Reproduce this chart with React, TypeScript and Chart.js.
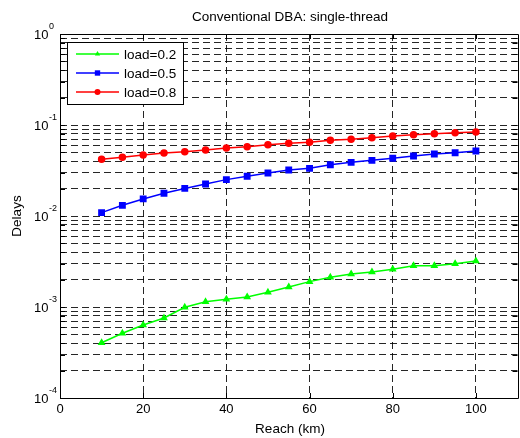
import React, { useEffect, useRef } from 'react';
import { Chart, registerables } from 'chart.js';

Chart.register(...registerables);

// ---- data ----
const reachKm = [10, 15, 20, 25, 30, 35, 40, 45, 50, 55, 60, 65, 70, 75, 80, 85, 90, 95, 100];
const delayLoad02 = [0.000405, 0.000514, 0.000634, 0.000757, 0.000993, 0.00114, 0.00122, 0.00129, 0.00145, 0.00166, 0.0019, 0.00212, 0.00231, 0.00243, 0.0026, 0.00284, 0.00284, 0.00299, 0.0032];
const delayLoad05 = [0.0109, 0.0131, 0.0154, 0.0178, 0.0201, 0.0225, 0.0251, 0.0273, 0.0297, 0.032, 0.0334, 0.0366, 0.0389, 0.0409, 0.0431, 0.0456, 0.048, 0.0496, 0.0518];
const delayLoad08 = [0.042, 0.0442, 0.0468, 0.0492, 0.0509, 0.0531, 0.0559, 0.0578, 0.0608, 0.0629, 0.0645, 0.0679, 0.0697, 0.0725, 0.0757, 0.0782, 0.0802, 0.0823, 0.0838];
const seriesLabels = ['load=0.2', 'load=0.5', 'load=0.8'];
const xTickValues = [0, 20, 40, 60, 80, 100];
const yDecadeExponents = [-4, -3, -2, -1, 0];
const yMinorMultipliers = [1, 2, 3, 4, 5, 6, 7, 8, 9];
const chartTitle = 'Conventional DBA: single-thread';
const xAxisTitle = 'Reach (km)';
const yAxisTitle = 'Delays';

const FONT = '"Liberation Sans", Arial, sans-serif';

function drawMarker(ctx: CanvasRenderingContext2D, style: string, x: number, y: number, r: number, color: string) {
  ctx.save();
  ctx.fillStyle = color;
  ctx.strokeStyle = color;
  ctx.beginPath();
  if (style === 'triangle') {
    ctx.moveTo(x, y - r);
    ctx.lineTo(x + r * 0.87, y + r * 0.5);
    ctx.lineTo(x - r * 0.87, y + r * 0.5);
    ctx.closePath();
  } else if (style === 'rect') {
    const s = r * Math.SQRT1_2;
    ctx.rect(x - s, y - s, 2 * s, 2 * s);
  } else {
    ctx.arc(x, y, r, 0, Math.PI * 2);
  }
  ctx.fill();
  ctx.restore();
}

const decorPlugin = {
  id: 'matlabDecor',
  afterDatasetsDraw(chart: any) {
    const ctx: CanvasRenderingContext2D = chart.ctx;
    const { left, right, top, bottom } = chart.chartArea;
    const xs = chart.scales.x;
    const ys = chart.scales.y;
    ctx.save();
    // box
    ctx.strokeStyle = '#000';
    ctx.lineWidth = 1;
    ctx.setLineDash([]);
    ctx.beginPath();
    ctx.rect(Math.round(left) + 0.5, Math.round(top) + 0.5, Math.round(right - left), Math.round(bottom - top));
    ctx.stroke();
    // y tick marks
    ctx.beginPath();
    for (const t of ys.ticks) {
      const y = Math.round(ys.getPixelForValue(t.value)) + 0.5;
      ctx.moveTo(left, y);
      ctx.lineTo(left + 5, y);
      ctx.moveTo(right, y);
      ctx.lineTo(right - 5, y);
    }
    // x tick marks
    for (const t of xs.ticks) {
      const x = Math.round(xs.getPixelForValue(t.value)) + 0.5;
      ctx.moveTo(x, bottom);
      ctx.lineTo(x, bottom - 5);
      ctx.moveTo(x, top);
      ctx.lineTo(x, top + 5);
    }
    ctx.stroke();

    // y decade labels with superscripts
    ctx.fillStyle = '#000';
    ctx.textBaseline = 'middle';
    ctx.textAlign = 'left';
    for (const e of yDecadeExponents) {
      const y = ys.getPixelForValue(Math.pow(10, e));
      ctx.font = `13px ${FONT}`;
      ctx.fillText('10', 34, y + 1);
      const w = ctx.measureText('10').width;
      ctx.font = `9px ${FONT}`;
      ctx.fillText(String(e), 34 + w + 0.5, y - 7);
    }

    // title
    ctx.font = `13.5px ${FONT}`;
    ctx.textAlign = 'center';
    ctx.fillText(chartTitle, 290, 17);
    // x axis title
    ctx.fillText(xAxisTitle, 290, 429);
    // y axis title
    ctx.save();
    ctx.translate(17, (top + bottom) / 2);
    ctx.rotate(-Math.PI / 2);
    ctx.fillText(yAxisTitle, 0, 0);
    ctx.restore();

    // legend
    const lx = 67, ly = 42, lw = 116, lh = 62;
    ctx.fillStyle = '#fff';
    ctx.fillRect(lx, ly, lw, lh);
    ctx.strokeStyle = '#000';
    ctx.lineWidth = 1;
    ctx.strokeRect(lx + 0.5, ly + 0.5, lw, lh);
    const rowYs = [54, 73, 92];
    chart.data.datasets.forEach((ds: any, i: number) => {
      const y = rowYs[i];
      ctx.strokeStyle = ds.borderColor;
      ctx.lineWidth = 1.5;
      ctx.beginPath();
      ctx.moveTo(76, y);
      ctx.lineTo(119, y);
      ctx.stroke();
      drawMarker(ctx, ds.pointStyle, 97.5, y, ds.pointRadius, ds.borderColor);
      ctx.fillStyle = '#000';
      ctx.font = `13.5px ${FONT}`;
      ctx.textAlign = 'left';
      ctx.textBaseline = 'middle';
      ctx.fillText(ds.label, 124, y + 1);
    });
    ctx.restore();
  },
};

export default function App() {
  const canvasRef = useRef<HTMLCanvasElement | null>(null);

  useEffect(() => {
    document.body.style.margin = '0';
    document.body.style.overflow = 'hidden';
    const canvas = canvasRef.current;
    if (!canvas) return;
    const mk = (vals: number[]) => reachKm.map((x, i) => ({ x, y: vals[i] }));
    const gridOpts = { color: 'rgba(0,0,0,0.85)', lineWidth: 1, drawTicks: false };
    const chart = new Chart(canvas, {
      type: 'line',
      data: {
        datasets: [
          { label: seriesLabels[0], data: mk(delayLoad02), borderColor: '#00ff00', backgroundColor: '#00ff00', pointStyle: 'triangle', pointRadius: 3, borderWidth: 1.5, tension: 0 },
          { label: seriesLabels[1], data: mk(delayLoad05), borderColor: '#0000ff', backgroundColor: '#0000ff', pointStyle: 'rect', pointRadius: 3.8, borderWidth: 1.5, tension: 0 },
          { label: seriesLabels[2], data: mk(delayLoad08), borderColor: '#ff0000', backgroundColor: '#ff0000', pointStyle: 'circle', pointRadius: 3, borderWidth: 1.5, tension: 0 },
        ] as any,
      },
      options: {
        animation: false,
        responsive: false,
        maintainAspectRatio: false,
        layout: { padding: { top: 34, left: 0, right: 0, bottom: 0 } },
        plugins: { legend: { display: false }, title: { display: false }, tooltip: { enabled: false } },
        scales: {
          x: {
            type: 'linear',
            min: 0,
            max: 110,
            grid: gridOpts,
            border: { display: false, dash: [7, 4] },
            ticks: { color: '#000', font: { family: FONT, size: 13 }, padding: 4, maxRotation: 0, autoSkip: false },
            afterBuildTicks: (s: any) => { s.ticks = xTickValues.map((v) => ({ value: v })); },
            afterFit: (s: any) => { s.height = 40; },
          },
          y: {
            type: 'logarithmic',
            min: Math.pow(10, yDecadeExponents[0]),
            max: Math.pow(10, yDecadeExponents[yDecadeExponents.length - 1]),
            grid: gridOpts,
            border: { display: false, dash: [7, 4] },
            ticks: { callback: () => '', autoSkip: false },
            afterBuildTicks: (s: any) => {
              const t: { value: number }[] = [];
              for (let i = 0; i < yDecadeExponents.length - 1; i++) {
                for (const m of yMinorMultipliers) t.push({ value: m * Math.pow(10, yDecadeExponents[i]) });
              }
              t.push({ value: Math.pow(10, yDecadeExponents[yDecadeExponents.length - 1]) });
              s.ticks = t;
            },
            afterFit: (s: any) => { s.width = 60; },
          },
        },
      } as any,
      plugins: [decorPlugin],
    });
    return () => chart.destroy();
  }, []);

  return (
    <div style={{ width: 520, height: 438, overflow: 'hidden', background: '#fff' }}>
      <canvas ref={canvasRef} width={523} height={438} style={{ display: 'block' }} />
    </div>
  );
}
